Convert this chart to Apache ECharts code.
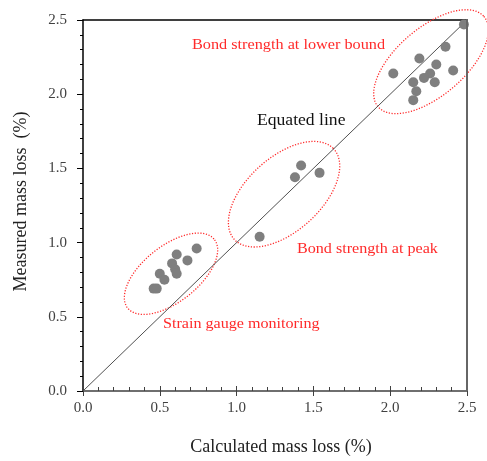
<!DOCTYPE html>
<html>
<head>
<meta charset="utf-8">
<script src="https://cdn.jsdelivr.net/npm/echarts@6/dist/echarts.min.js"></script>
<style>
  html, body { margin: 0; padding: 0; background: #fff; }
  #chart { width: 487px; height: 461px; }
</style>
</head>
<body>
<div id="chart"></div>
<script>
// measured vs calculated mass loss (%)
let strainGauge = [
  [0.46, 0.69], [0.48, 0.69], [0.50, 0.79], [0.53, 0.75], [0.58, 0.86],
  [0.61, 0.92], [0.60, 0.82], [0.61, 0.79], [0.68, 0.88], [0.74, 0.96]
]
let bondPeak = [
  [1.42, 1.52], [1.38, 1.44], [1.54, 1.47], [1.15, 1.04]
]
let bondLower = [
  [2.48, 2.47], [2.36, 2.32], [2.02, 2.14], [2.19, 2.24], [2.30, 2.20],
  [2.41, 2.16], [2.26, 2.14], [2.22, 2.11], [2.15, 2.08], [2.29, 2.08],
  [2.17, 2.02], [2.15, 1.96]
]
let equatedLine = [[0, 0], [2.5, 2.5]]

// ellipses round each group: centre, semi axes (axis units), tilt in degrees
let groupRings = [
  { c: [2.266, 2.219], a: 0.46, b: 0.225, deg: 42 },
  { c: [1.309, 1.326], a: 0.445, b: 0.245, deg: 44 },
  { c: [0.573, 0.790], a: 0.365, b: 0.185, deg: 40 }
]

const serif = 'Liberation Serif, Times New Roman, serif'
const chartDom = document.getElementById('chart')
const chart = echarts.init(chartDom)

function ringItem(params, api) {
  let r = groupRings[params.dataIndex]
  let ctr = api.coord(r.c)
  let unit = api.size([1, 1])
  let th = r.deg * Math.PI / 180
  let pts = []
  for (let i = 0; i < 90; i++) {
    let t = i / 90 * Math.PI * 2
    let dx = r.a * Math.cos(t) * Math.cos(th) - r.b * Math.sin(t) * Math.sin(th)
    let dy = r.a * Math.cos(t) * Math.sin(th) + r.b * Math.sin(t) * Math.cos(th)
    pts.push([ctr[0] + dx * unit[0], ctr[1] - dy * unit[1]])
  }
  return {
    type: 'polygon',
    shape: { points: pts },
    style: { fill: 'none', stroke: '#ff2a2a', lineWidth: 1.3, lineDash: [1.2, 1.6] }
  }
}

// right edge of the frame, from the scale's top-right to bottom-right corner
function edgeItem(params, api) {
  let top = api.coord([2.5, 2.5])
  let bottom = api.coord([2.5, 0])
  return {
    type: 'line',
    shape: { x1: top[0], y1: top[1] - 1, x2: bottom[0], y2: bottom[1] },
    style: { stroke: '#666', lineWidth: 2 }
  }
}

let option = {
  animation: false,
  grid: { left: 83, right: 20, top: 20, bottom: 68 },
  xAxis: [
    {
      type: 'value', min: 0, max: 2.5, interval: 0.5,
      name: 'Calculated mass loss (%)',
      nameLocation: 'middle', nameGap: 47,
      nameTextStyle: { fontFamily: serif, fontSize: 18, color: '#222', padding: [0, 0, 0, 12] },
      axisLine: { onZero: false, lineStyle: { color: '#404040', width: 1.5 } },
      axisTick: { inside: true, length: 5, lineStyle: { color: '#404040' } },
      minorTick: { show: true, splitNumber: 5, length: 4, lineStyle: { color: '#404040' } },
      axisLabel: { fontFamily: serif, fontSize: 15, color: '#404040', margin: 10,
        formatter: v => v.toFixed(1) },
      splitLine: { show: false }
    },
    {
      // outer half of the major ticks on the bottom axis
      type: 'value', min: 0, max: 2.5, interval: 0.5, position: 'bottom',
      axisLine: { show: false, onZero: false },
      axisTick: { length: 5, lineStyle: { color: '#404040' } },
      axisLabel: { show: false },
      splitLine: { show: false }
    },
    {
      type: 'value', min: 0, max: 2.5, position: 'top',
      axisLine: { onZero: false, lineStyle: { color: '#000', width: 1.5 } },
      axisTick: { show: false }, axisLabel: { show: false }, splitLine: { show: false }
    }
  ],
  yAxis: [
    {
      type: 'value', min: 0, max: 2.5, interval: 0.5,
      name: 'Measured mass loss  (%)',
      nameLocation: 'middle', nameGap: 53,
      nameTextStyle: { fontFamily: serif, fontSize: 18, color: '#222', padding: [0, 0, 0, 8] },
      axisLine: { show: true, onZero: false, lineStyle: { color: '#000', width: 1.5 } },
      axisTick: { length: 6, lineStyle: { color: '#000' } },
      minorTick: { show: true, splitNumber: 5, length: 3, lineStyle: { color: '#000' } },
      axisLabel: { fontFamily: serif, fontSize: 15, color: '#404040', margin: 16,
        formatter: v => v.toFixed(1) },
      splitLine: { show: false }
    }
  ],
  series: [
    {
      type: 'line', data: equatedLine, symbol: 'none',
      lineStyle: { color: '#505050', width: 1 }
    },
    {
      type: 'custom', renderItem: ringItem,
      data: groupRings.map((r, i) => [r.c[0], r.c[1], i]),
      clip: false, z: 1
    },
    {
      type: 'custom', renderItem: edgeItem,
      data: [[2.5, 0]], clip: false, z: 4
    },
    {
      name: 'strain gauge', type: 'scatter', data: strainGauge,
      symbolSize: 10, itemStyle: { color: '#7f7f7f', opacity: 1 }, z: 3
    },
    {
      name: 'peak', type: 'scatter', data: bondPeak,
      symbolSize: 10, itemStyle: { color: '#7f7f7f', opacity: 1 }, z: 3
    },
    {
      name: 'lower bound', type: 'scatter', data: bondLower,
      symbolSize: 10, itemStyle: { color: '#7f7f7f', opacity: 1 }, z: 3
    }
  ],
  graphic: [
    { type: 'text', x: 192, y: 38, scaleX: 1.16,
      style: { text: 'Bond strength at lower bound', font: '14px ' + serif, fill: '#ff2a2a' } },
    { type: 'text', x: 257, y: 113, scaleX: 1.1,
      style: { text: 'Equated line', font: '16px ' + serif, fill: '#111' } },
    { type: 'text', x: 297, y: 242, scaleX: 1.15,
      style: { text: 'Bond strength at peak', font: '14px ' + serif, fill: '#ff2a2a' } },
    { type: 'text', x: 163, y: 317, scaleX: 1.15,
      style: { text: 'Strain gauge monitoring', font: '14px ' + serif, fill: '#ff2a2a' } }
  ]
}

chart.setOption(option)
</script>
</body>
</html>
